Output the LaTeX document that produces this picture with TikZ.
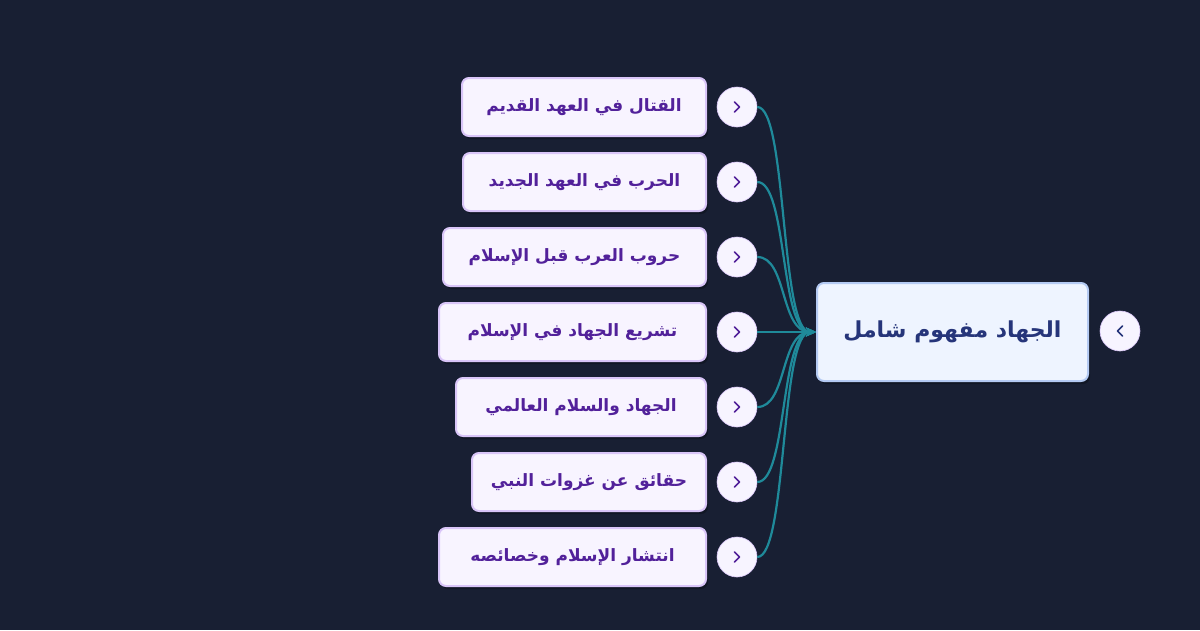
\documentclass[tikz,border=0pt]{standalone}
\usepackage{fontspec}
\TeXXeTstate=1
\newfontfamily\arabicfont[Script=Arabic]{DejaVu Sans}
\usetikzlibrary{arrows.meta,shadows}
\definecolor{bg}{HTML}{181F33}
\definecolor{rootfill}{HTML}{EEF4FF}
\definecolor{rootline}{HTML}{B4CAF3}
\definecolor{roottext}{HTML}{26357A}
\definecolor{kidfill}{HTML}{F8F4FF}
\definecolor{kidline}{HTML}{D9C5F8}
\definecolor{kidtext}{HTML}{52219A}
\definecolor{edgecol}{HTML}{1F8A9A}
\definecolor{circfill}{HTML}{F7F4FF}
\tikzset{
  rootbox/.style={draw=rootline, line width=2pt, fill=rootfill, rounded corners=7pt,
    inner xsep=0pt, minimum width=271pt, minimum height=98pt, text=roottext, font=\arabicfont\bfseries\fontsize{22}{26}\selectfont,
    drop shadow={shadow xshift=2pt, shadow yshift=-3pt, opacity=0.25, fill=black}},
  kidbox/.style={draw=kidline, line width=2pt, fill=kidfill, rounded corners=7pt,
    inner xsep=0pt, minimum height=58pt, text=kidtext, font=\arabicfont\bfseries\fontsize{17}{20}\selectfont,
    drop shadow={shadow xshift=2pt, shadow yshift=-3pt, opacity=0.25, fill=black}},
  toggle/.style={circle, draw=kidline, line width=0.6pt, fill=circfill, minimum size=40pt, inner sep=0pt},
  chev/.style={line width=1.5pt, line cap=round, line join=round},
  edge/.style={draw=edgecol, line width=2.2pt, -{Stealth[length=10pt,width=9pt]}},
}
\begin{document}
\begin{tikzpicture}[x=1pt,y=-1pt]
\fill[bg] (0,0) rectangle (1200,630);
\useasboundingbox (0,0) rectangle (1200,630);
\node[rootbox, anchor=east] (root) at (1089,332) {\beginR الجهاد مفهوم شامل\endR};
\node[toggle] (rt) at (1120,331) {};
\draw[chev, roottext] ([xshift=2.5pt,yshift=5pt]rt.center) -- ([xshift=-2.5pt]rt.center) -- ([xshift=2.5pt,yshift=-5pt]rt.center);
\foreach \i/\y/\w/\t in {1/107/244/القتال في العهد القديم, 2/182/243/الحرب في العهد الجديد, 3/257/263/حروب العرب قبل الإسلام, 4/332/267/تشريع الجهاد في الإسلام, 5/407/250/الجهاد والسلام العالمي, 6/482/234/حقائق عن غزوات النبي, 7/557/267/انتشار الإسلام وخصائصه}{
  \node[kidbox, anchor=east, minimum width=\w pt] (k\i) at (707,\y) {\beginR \t\endR};
  \node[toggle] (c\i) at (737,\y) {};
  \draw[chev, kidtext] ([xshift=-2.5pt,yshift=5pt]c\i.center) -- ([xshift=2.5pt]c\i.center) -- ([xshift=-2.5pt,yshift=-5pt]c\i.center);
  \draw[edge] (c\i.east) .. controls +(30,0) and +(-36,0) .. (root.west);
}
\end{tikzpicture}
\end{document}
